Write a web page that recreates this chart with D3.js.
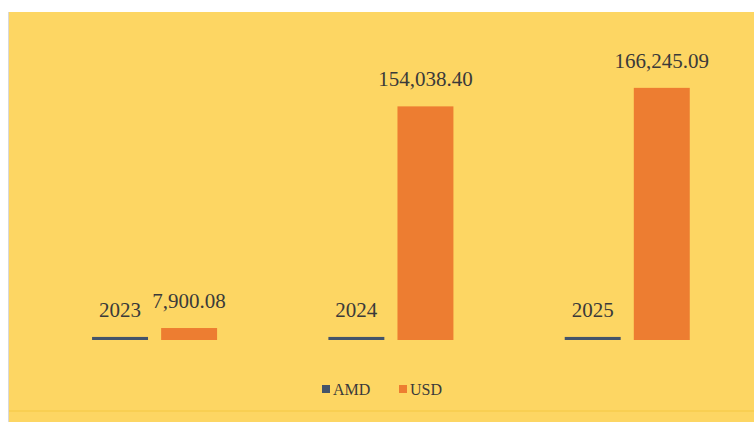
<!DOCTYPE html>
<html><head><meta charset="utf-8">
<script src="https://cdn.jsdelivr.net/npm/d3@7"></script>
<style>html,body{margin:0;padding:0;background:#fff;}svg{display:block;}</style>
</head><body>
<svg id="c" width="754" height="422"></svg>
<script>
const categories = ["2023", "2024", "2025"];
const seriesNames = ["AMD", "USD"];
const amdValues = [2023, 2024, 2025];
const usdValues = [7900.08, 154038.40, 166245.09];
const usdLabels = ["7,900.08", "154,038.40", "166,245.09"];
const amdLabels = ["2023", "2024", "2025"];
const colors = ["#44546A", "#ED7D31"];

const svg = d3.select("#c");
svg.append("rect").attr("x", 9).attr("y", 12).attr("width", 745).attr("height", 410).attr("fill", "#FDD663");
svg.append("line").attr("x1", 8.5).attr("x2", 8.5).attr("y1", 12).attr("y2", 422).attr("stroke", "#d9d9d9");
svg.append("line").attr("x1", 9).attr("x2", 754).attr("y1", 411).attr("y2", 411).attr("stroke", "#F9CF52").attr("stroke-width", 2);

const x = d3.scaleBand().domain(categories).range([37, 746]);
const xs = d3.scaleBand().domain(seriesNames).range([x.bandwidth() * 0.233, x.bandwidth() * 0.762]).paddingInner(0.19);
const y = d3.scaleLinear().domain([0, 180000]).range([340, 67]);

const rows = categories.map((c, i) => ({c, vals: [
  {s: "AMD", v: amdValues[i], l: amdLabels[i]},
  {s: "USD", v: usdValues[i], l: usdLabels[i]}
]}));

const g = svg.append("g");
const grp = g.selectAll("g.cat").data(rows).join("g").attr("transform", d => `translate(${x(d.c)},0)`);
grp.selectAll("rect").data(d => d.vals).join("rect")
  .attr("x", d => xs(d.s)).attr("width", xs.bandwidth())
  .attr("y", d => y(d.v)).attr("height", d => y(0) - y(d.v))
  .attr("fill", (d, i) => colors[i]);
grp.selectAll("text").data(d => d.vals).join("text")
  .attr("x", d => xs(d.s) + xs.bandwidth() / 2)
  .attr("y", d => y(d.v) - 20)
  .attr("text-anchor", "middle")
  .attr("font-family", "Liberation Serif, serif")
  .attr("font-size", 21)
  .attr("fill", "#3a3a3a")
  .text(d => d.l);

// legend
const leg = svg.append("g").attr("font-family", "Liberation Serif, serif").attr("font-size", 16).attr("fill", "#3a3a3a");
const legX = [322, 399];
seriesNames.forEach((s, i) => {
  leg.append("rect").attr("x", legX[i]).attr("y", 385).attr("width", 8).attr("height", 8).attr("fill", colors[i]);
  leg.append("text").attr("x", legX[i] + 11).attr("y", 395).text(s);
});
</script>
</body></html>
